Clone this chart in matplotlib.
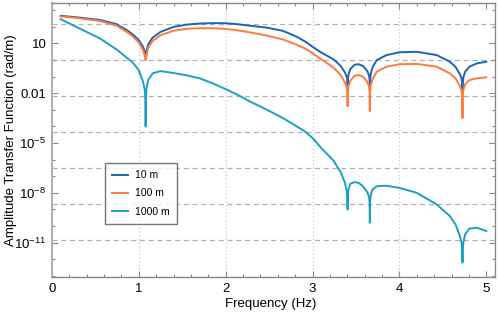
import numpy as np
import matplotlib
matplotlib.use("Agg")
import matplotlib.pyplot as plt
from matplotlib.ticker import FixedLocator, NullFormatter

plt.rcParams['font.family'] = ['Liberation Sans', 'DejaVu Sans']
plt.rcParams['mathtext.fontset'] = 'custom'
plt.rcParams['mathtext.rm'] = 'Liberation Sans'
plt.rcParams['mathtext.it'] = 'Liberation Sans:italic'

# Frequency samples (Hz), shared by all series
freq = [0.1, 0.3, 0.55, 0.74, 0.86, 0.93, 0.998, 1.048, 1.068, 1.075, 1.078,
        1.081, 1.088, 1.108, 1.158, 1.25, 1.4, 1.55, 1.7, 1.85, 2.0, 2.14,
        2.28, 2.47, 2.66, 2.82, 2.92,
        3.0, 3.1, 3.24, 3.323, 3.373, 3.393, 3.400, 3.403, 3.406, 3.413,
        3.433, 3.483, 3.53, 3.579, 3.629, 3.649, 3.656, 3.659, 3.662, 3.669,
        3.689, 3.739, 3.85, 4.0, 4.2, 4.43, 4.58, 4.645, 4.695, 4.715, 4.722,
        4.726, 4.729, 4.736, 4.756, 4.806, 4.89, 5.0]

# log10 of amplitude transfer function (rad/m)
log_10m = [2.67, 2.57, 2.42, 2.17, 1.81, 1.55, 1.22, 0.8, 0.5, 0.38, 0.3,
           0.38, 0.55, 0.95, 1.35, 1.7, 2.0, 2.14, 2.2, 2.23, 2.22, 2.16,
           2.07, 1.96, 1.76, 1.4, 1.1,
           0.8, 0.45, 0.05, -0.35, -0.75, -1.0, -1.2, -1.5, -1.2, -0.9,
           -0.55, -0.28, -0.25, -0.35, -0.65, -0.9, -1.15, -1.6, -1.15, -0.85,
           -0.45, 0.0, 0.3, 0.47, 0.5, 0.3, -0.1, -0.4, -0.85, -1.1, -1.4,
           -2.0, -1.4, -1.05, -0.7, -0.4, -0.2, -0.1]
log_100m = [2.63, 2.53, 2.36, 2.08, 1.70, 1.42, 1.07, 0.6, 0.25, 0.1, 0.0,
            0.1, 0.3, 0.75, 1.15, 1.5, 1.77, 1.88, 1.92, 1.92, 1.88, 1.79,
            1.67, 1.48, 1.24, 0.92, 0.68,
            0.41, 0.05, -0.45, -0.9, -1.35, -1.65, -1.9, -2.77, -1.9, -1.6,
            -1.25, -0.95, -0.9, -1.0, -1.3, -1.6, -1.9, -3.07, -1.9, -1.55,
            -1.15, -0.7, -0.4, -0.25, -0.23, -0.4, -0.8, -1.1, -1.55, -1.85, -2.1,
            -3.5, -2.1, -1.8, -1.45, -1.2, -1.1, -1.04]
log_1000m = [2.46, 1.95, 1.31, 0.65, 0.15, -0.15, -0.6, -1.3, -1.8, -2.3, -4.0,
             -2.3, -1.7, -1.2, -0.8, -0.66, -0.78, -0.92, -1.1, -1.4, -1.75, -2.1,
             -2.5, -2.98, -3.5, -4.0, -4.33,
             -4.7, -5.3, -6.05, -6.75, -7.4, -7.9, -8.3, -9.0, -8.2, -7.8,
             -7.45, -7.35, -7.4, -7.6, -7.95, -8.25, -8.55, -9.8, -8.5, -8.15,
             -7.8, -7.6, -7.57, -7.7, -8.0, -8.7, -9.4, -9.9, -10.6, -11.0, -11.4,
             -12.2, -11.4, -11.0, -10.5, -10.15, -10.1, -10.3]

labels = ["10 m", "100 m", "1000 m"]
colors = ["#1f64b4", "#ff7a40", "#1ba0c3"]

fig = plt.figure(figsize=(4.98, 3.12), dpi=100)
ax = fig.add_axes([52/498, 35/312, 443/498, 274/312])

f = np.array(freq)
for lg, lab, col in zip([log_10m, log_100m, log_1000m], labels, colors):
    ax.plot(f, 10.0 ** np.array(lg), color=col, lw=1.4, label=lab, zorder=3)

ax.set_yscale('log')
ax.set_xlim(0, 5.1)
ax.set_ylim(10 ** -13.07, 10 ** 3.44)

# grid lines
for xv in [1, 2, 3, 4]:
    ax.axvline(xv, color='#c8c8c8', lw=0.9, ls=(0, (1, 2)), zorder=1)
for k in range(-5, 2):
    ax.axhline(np.exp(5 * k), color='#b0b0b0', lw=0.9, ls=(0, (4, 3)), zorder=1)

# ticks
ax.set_xticks([0, 1, 2, 3, 4, 5])
ax.set_xticks(np.arange(0, 5.01, 0.2), minor=True)
ymaj = [1e1, 1e-2, 1e-5, 1e-8, 1e-11]
ax.yaxis.set_major_locator(FixedLocator(ymaj))
ax.set_yticklabels(["10", "0.01", r"$10^{-5}$", r"$10^{-8}$", r"$10^{-11}$"])
ax.yaxis.set_minor_locator(FixedLocator([10.0 ** e for e in range(-13, 4)]))
ax.yaxis.set_minor_formatter(NullFormatter())
ax.tick_params(which='both', direction='in', top=True, right=True,
               color='#888888', labelsize=9.5, labelcolor='black')
ax.tick_params(which='major', length=4, width=0.8, pad=4)
ax.tick_params(which='minor', length=2.5, width=0.8)

for s in ax.spines.values():
    s.set_color('#888888')
    s.set_linewidth(1.0)
ax.spines['left'].set_color('#b0b0b0')
ax.spines['left'].set_linewidth(1.5)

ax.set_xlabel("Frequency (Hz)", fontsize=9.5)
ax.set_ylabel("Amplitude Transfer Function (rad/m)", fontsize=9.5)
ax.xaxis.set_label_coords(0.494, -0.078)
ax.yaxis.set_label_coords(-0.078, 0.5)

leg = ax.legend(loc='lower left', bbox_to_anchor=(0.12, 0.193), fontsize=7.5,
                frameon=True, fancybox=False, handlelength=1.5,
                borderpad=0.7, labelspacing=0.8, handletextpad=0.65,
                borderaxespad=0)
leg.get_frame().set_edgecolor('#555555')
leg.get_frame().set_linewidth(1.0)

fig.savefig("out.png", dpi=100)
